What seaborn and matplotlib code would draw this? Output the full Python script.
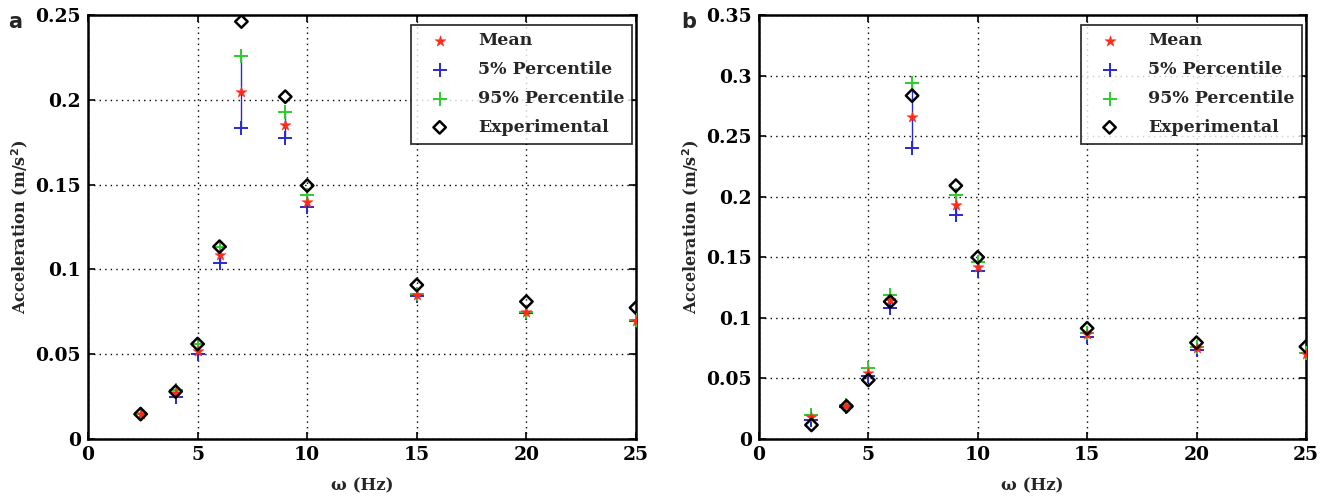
import numpy as np
import pandas as pd
import matplotlib
matplotlib.use("Agg")
import matplotlib.pyplot as plt
import seaborn as sns

# ---------------- data ----------------
freq = [2.4, 4, 5, 6, 7, 9, 10, 15, 20, 25]

a_mean = [0.0147, 0.027, 0.052, 0.1085, 0.2044, 0.1851, 0.1399, 0.0849, 0.0748, 0.0698]
a_p5 = [0.0145, 0.025, 0.050, 0.104, 0.1832, 0.1773, 0.1370, 0.0842, 0.0742, 0.0696]
a_p95 = [0.0150, 0.029, 0.056, 0.1130, 0.2256, 0.1926, 0.1439, 0.0852, 0.0750, 0.0702]
a_exp = [0.0147, 0.028, 0.056, 0.1134, 0.2461, 0.2018, 0.1494, 0.0908, 0.0810, 0.0774]

b_mean = [0.0180, 0.0275, 0.0548, 0.1148, 0.2655, 0.1932, 0.1423, 0.0863, 0.0750, 0.0702]
b_p5 = [0.0157, 0.0268, 0.0520, 0.1080, 0.2405, 0.1849, 0.1390, 0.0840, 0.0735, 0.0708]
b_p95 = [0.0198, 0.0280, 0.0583, 0.1189, 0.2936, 0.2014, 0.1464, 0.0873, 0.0762, 0.0712]
b_exp = [0.0116, 0.0270, 0.0487, 0.1134, 0.2834, 0.2091, 0.1500, 0.0914, 0.0795, 0.0762]

x_ticks = [0, 5, 10, 15, 20, 25]
a_yticks = [0, 0.05, 0.1, 0.15, 0.2, 0.25]
a_ylabels = ["0", "0.05", "0.1", "0.15", "0.2", "0.25"]
b_yticks = [0, 0.05, 0.1, 0.15, 0.2, 0.25, 0.3, 0.35]
b_ylabels = ["0", "0.05", "0.1", "0.15", "0.2", "0.25", "0.3", "0.35"]

labels = ["Mean", "5% Percentile", "95% Percentile", "Experimental"]

# ---------------- style ----------------
sns.set_theme(style="white")
plt.rcParams["font.family"] = ["DejaVu Serif"]
plt.rcParams["font.weight"] = "bold"
plt.rcParams["mathtext.default"] = "bf"

fig = plt.figure(figsize=(13.35, 4.96), dpi=100)
ax_a = fig.add_axes([0.0659, 0.1149, 0.4105, 0.855])
ax_b = fig.add_axes([0.5685, 0.1149, 0.4097, 0.855])

RED = "#ff2a1a"
BLUE = "#2a2acc"
GREEN = "#2ecc2e"


def draw(ax, mean, p5, p95, exp, yticks, ylabels, ymax):
    ax.vlines(freq, p5, p95, color=BLUE, lw=1.0, zorder=2)
    sns.scatterplot(x=freq, y=p5, ax=ax, marker="+", color=BLUE, s=100,
                    linewidth=1.4, label=labels[1], zorder=3)
    sns.scatterplot(x=freq, y=p95, ax=ax, marker="+", color=GREEN, s=100,
                    linewidth=1.4, label=labels[2], zorder=3)
    sns.scatterplot(x=freq, y=mean, ax=ax, marker="*", color=RED, s=70,
                    linewidth=0.3, edgecolor=RED, label=labels[0], zorder=4)
    sns.scatterplot(x=freq, y=exp, ax=ax, marker="D", facecolor="none",
                    edgecolor="black", s=40, linewidth=1.8,
                    label=labels[3], zorder=5)
    ax.set_xlim(0, 25)
    ax.set_ylim(0, ymax)
    ax.set_xticks(x_ticks)
    ax.set_xticklabels([str(t) for t in x_ticks], fontsize=13.5, fontweight="bold")
    ax.set_yticks(yticks)
    ax.set_yticklabels(ylabels, fontsize=13.5, fontweight="bold")
    ax.grid(True, linestyle=(0, (1, 3)), color="black", lw=1.0)
    ax.set_axisbelow(True)
    ax.tick_params(direction="in", length=5, width=1.2, top=True, right=True,
                   bottom=True, left=True, pad=5, colors="black")
    for sp in ax.spines.values():
        sp.set_visible(True)
        sp.set_color("black")
        sp.set_linewidth(1.8)
    ax.set_xlabel("ω (Hz)", fontsize=12, fontweight="bold", labelpad=10)
    ax.set_ylabel("Acceleration (m/s$^2$)", fontsize=11.5, fontweight="bold",
                  labelpad=4)
    handles, labs = ax.get_legend_handles_labels()
    order = [labs.index(l) for l in labels]
    leg = ax.legend([handles[i] for i in order], [labs[i] for i in order],
                    loc="upper right", fontsize=12.5, frameon=True,
                    fancybox=False, edgecolor="black", borderpad=0.45,
                    handletextpad=1.0, handlelength=2.4, labelspacing=0.68,
                    borderaxespad=0.0,
                    bbox_to_anchor=(0.993, 0.977))
    leg.get_frame().set_linewidth(1.3)
    for t in leg.get_texts():
        t.set_fontweight("bold")


draw(ax_a, a_mean, a_p5, a_p95, a_exp, a_yticks, a_ylabels, 0.25)
draw(ax_b, b_mean, b_p5, b_p95, b_exp, b_yticks, b_ylabels, 0.35)

fig.text(0.006, 0.955, "a", fontsize=15, fontweight="bold",
         family="DejaVu Sans", va="center")
fig.text(0.510, 0.955, "b", fontsize=15, fontweight="bold",
         family="DejaVu Sans", va="center")

fig.savefig("out.png", dpi=100, facecolor="white")
